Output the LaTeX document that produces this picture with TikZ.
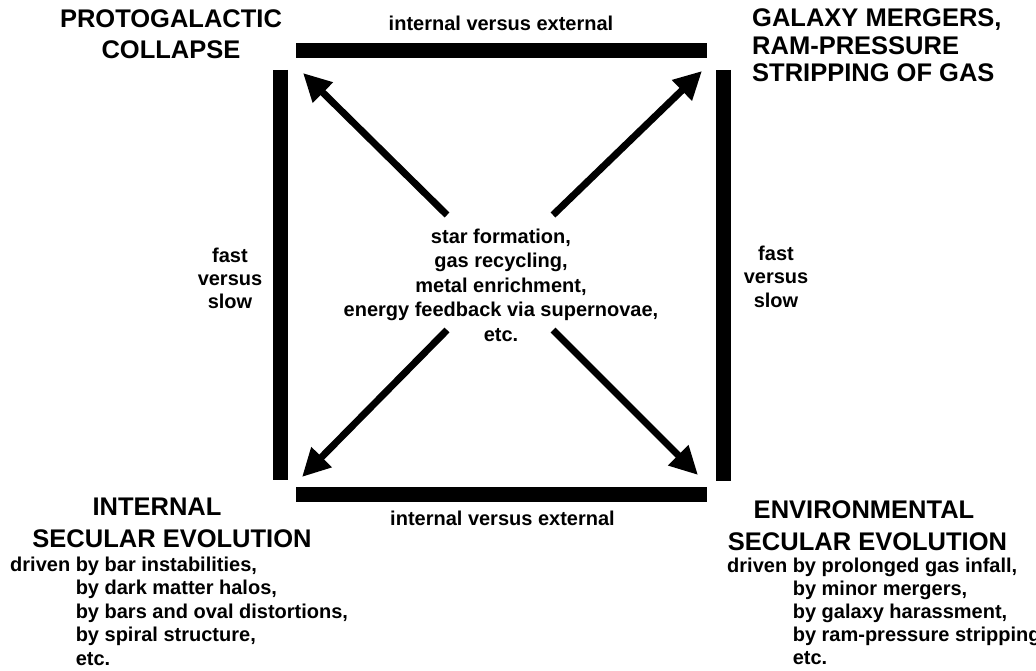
\documentclass[tikz,border=0pt]{standalone}
\usepackage{fontspec}
\setmainfont{Liberation Sans}
\usetikzlibrary{arrows.meta}

\tikzset{
  txt/.style={font=\bfseries\fontsize{20}{24.5}\selectfont, inner sep=0pt, anchor=base},
  heading/.style={font=\bfseries\fontsize{25.5}{31}\selectfont, inner sep=0pt, anchor=base},
  bar/.style={line width=15pt},
  flow/.style={line width=7pt, -{Triangle[length=28pt,width=27pt]}}
}

\begin{document}
\begin{tikzpicture}[x=1pt, y=-1pt]
        \useasboundingbox (0,0) rectangle (1036,671);

        % the square of bars
        \coordinate (top-a) at (296, 50.5);
        \coordinate (top-b) at (707, 50.5);
        \coordinate (bot-a) at (296, 494.5);
        \coordinate (bot-b) at (707, 494.5);
        \coordinate (lft-a) at (280.5, 70);
        \coordinate (lft-b) at (280.5, 480);
        \coordinate (rgt-a) at (723.5, 70);
        \coordinate (rgt-b) at (723.5, 481);
        \draw [bar] (top-a) -- (top-b);
        \draw [bar] (bot-a) -- (bot-b);
        \draw [bar] (lft-a) -- (lft-b);
        \draw [bar] (rgt-a) -- (rgt-b);

        \node [txt] (ie-top) at (501, 31) {internal versus external};
        \node [txt] (ie-bot) at (502.5, 525) {internal versus external};
        \node [txt, align=center, font=\bfseries\fontsize{20}{23}\selectfont] (fs-left) at (230, 308) {fast\\versus\\slow};
        \node [txt, align=center, font=\bfseries\fontsize{20}{23.5}\selectfont] (fs-right) at (776, 307) {fast\\versus\\slow};

        % centre
        \node [txt, align=center] (proc) at (501, 341) {star formation,\\gas recycling,\\metal enrichment,\\energy feedback via supernovae,\\etc.};

        \coordinate (proc-nw) at (447, 215);
        \coordinate (proc-ne) at (553, 215);
        \coordinate (proc-sw) at (447, 330);
        \coordinate (proc-se) at (553, 330);
        \coordinate (tip-nw) at (303, 73);
        \coordinate (tip-ne) at (702, 71);
        \coordinate (tip-sw) at (302, 477);
        \coordinate (tip-se) at (698, 475);
        \draw [flow] (proc-nw) -- (tip-nw);
        \draw [flow] (proc-ne) -- (tip-ne);
        \draw [flow] (proc-sw) -- (tip-sw);
        \draw [flow] (proc-se) -- (tip-se);

        % corners
        \node [heading, align=center] (proto) at (171, 59) {PROTOGALACTIC\\COLLAPSE};
        \node [heading, align=left, anchor=base west, font=\bfseries\fontsize{25.5}{27.5}\selectfont] (merge) at (752, 82) {GALAXY MERGERS,\\RAM-PRESSURE\\STRIPPING OF GAS};

        \node [heading] (int-a) at (157, 515) {INTERNAL};
        \node [heading] (int-b) at (172, 547) {SECULAR EVOLUTION};
        \node [txt, align=left, anchor=base west, font=\bfseries\fontsize{20}{23.5}\selectfont] (int-list) at (10, 665)
            {driven by bar instabilities,\\\phantom{driven} by dark matter halos,\\\phantom{driven} by bars and oval distortions,\\\phantom{driven} by spiral structure,\\\phantom{driven} etc.};

        \node [heading] (env-a) at (864, 518) {ENVIRONMENTAL};
        \node [heading] (env-b) at (867.5, 550) {SECULAR EVOLUTION};
        \node [txt, align=left, anchor=base west, font=\bfseries\fontsize{20}{23}\selectfont] (env-list) at (727, 664)
            {driven by prolonged gas infall,\\\phantom{driven} by minor mergers,\\\phantom{driven} by galaxy harassment,\\\phantom{driven} by ram-pressure stripping\\\phantom{driven} etc.};
    \end{tikzpicture}
\end{document}
